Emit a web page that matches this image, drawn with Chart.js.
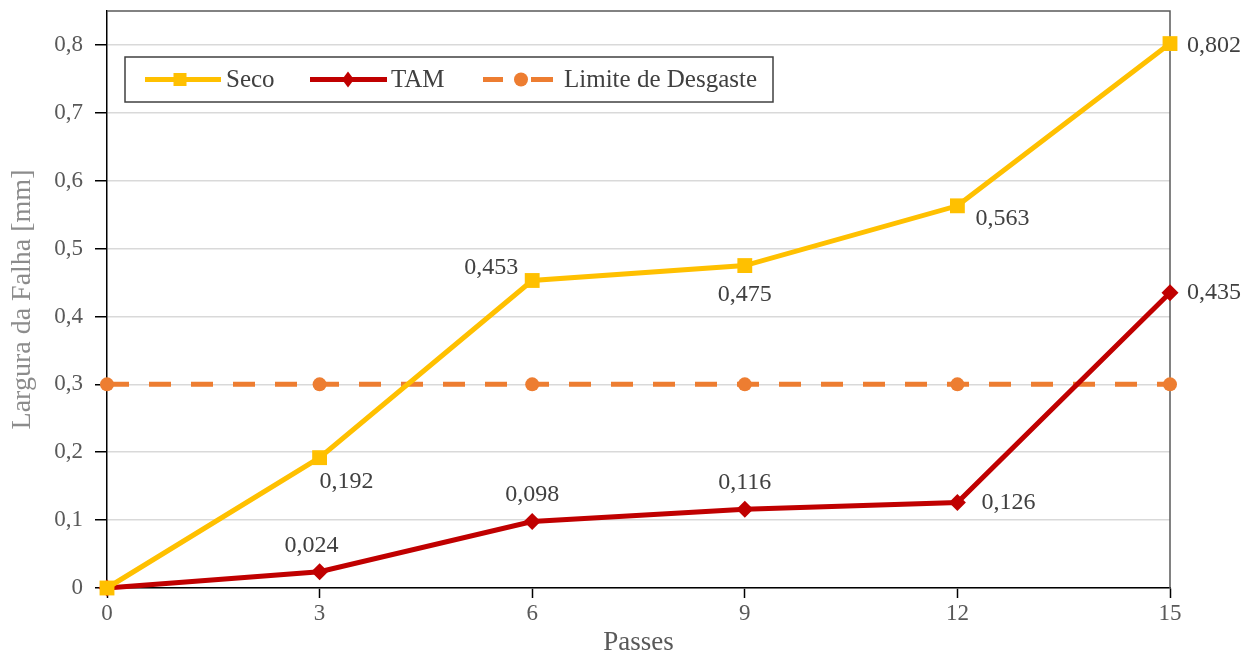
<!DOCTYPE html>
<html>
<head>
<meta charset="utf-8">
<script src="https://cdn.jsdelivr.net/npm/chart.js@4.4.1/dist/chart.umd.min.js"></script>
<style>
  html,body{margin:0;padding:0;background:#fff;}
  #wrap{width:1255px;height:659px;}
</style>
</head>
<body>
<div id="wrap"><canvas id="chart" width="1255" height="659"></canvas></div>
<script>
// data
const passes = [0, 3, 6, 9, 12, 15];
const seco   = [0, 0.192, 0.453, 0.475, 0.563, 0.802];
const tam    = [0, 0.024, 0.098, 0.116, 0.126, 0.435];
const limite = [0.3, 0.3, 0.3, 0.3, 0.3, 0.3];
const seriesNames = ["Seco", "TAM", "Limite de Desgaste"];

// where each value label goes relative to its point: [dx, dy, align]
const secoLabelPos = [null, [0,24,"left"], [-14,-13,"right"], [0,29,"center"], [18,13,"left"], [17,2,"left"]];
const tamLabelPos  = [null, [-8,-26,"center"], [0,-27,"center"], [0,-27,"center"], [24,0,"left"], [17,0,"left"]];

const FONT = "'Liberation Serif','Times New Roman',serif";
const fmt = v => String(v).replace(".", ",");
const pts = arr => passes.map((p,i)=>({x:p,y:arr[i]}));

const valueLabels = {
  id:"valueLabels",
  afterDatasetsDraw(chart){
    const ctx = chart.ctx;
    const sets = [[0, seco, secoLabelPos],[1, tam, tamLabelPos]];
    ctx.save();
    ctx.font = "24px " + FONT;
    ctx.fillStyle = "#404040";
    ctx.textBaseline = "middle";
    sets.forEach(([di, vals, pos])=>{
      const meta = chart.getDatasetMeta(di);
      meta.data.forEach((el,j)=>{
        const p = pos[j];
        if(!p) return;
        ctx.textAlign = p[2];
        ctx.fillText(fmt(vals[j]), el.x + p[0], el.y + p[1]);
      });
    });
    ctx.restore();
  }
};

// frame on top/right + legend box inside the plot
const frameAndLegend = {
  id:"frameAndLegend",
  beforeDatasetsDraw(chart){
    const {ctx, chartArea:a} = chart;
    ctx.save();
    ctx.strokeStyle = "#595959";
    ctx.lineWidth = 1.5;
    ctx.beginPath();
    ctx.moveTo(a.left, a.top);
    ctx.lineTo(a.right, a.top);
    ctx.lineTo(a.right, a.bottom);
    ctx.stroke();
    ctx.restore();
  },
  afterDraw(chart){
    const {ctx, chartArea:a} = chart;
    const bx = a.left + 18, by = a.top + 46, bw = 648, bh = 45;
    const cy = by + bh/2;
    ctx.save();
    ctx.fillStyle = "#fff";
    ctx.fillRect(bx, by, bw, bh);
    ctx.strokeStyle = "#404040";
    ctx.lineWidth = 1.5;
    ctx.strokeRect(bx, by, bw, bh);

    const ds = chart.data.datasets;
    ctx.lineWidth = 5;
    // Seco
    ctx.strokeStyle = ds[0].borderColor;
    ctx.beginPath(); ctx.moveTo(bx+20, cy); ctx.lineTo(bx+96, cy); ctx.stroke();
    ctx.fillStyle = ds[0].borderColor;
    ctx.fillRect(bx+55-6.5, cy-6.5, 13, 13);
    // TAM
    ctx.strokeStyle = ds[1].borderColor;
    ctx.beginPath(); ctx.moveTo(bx+185, cy); ctx.lineTo(bx+262, cy); ctx.stroke();
    ctx.fillStyle = ds[1].borderColor;
    ctx.beginPath();
    ctx.moveTo(bx+223, cy-8); ctx.lineTo(bx+229, cy); ctx.lineTo(bx+223, cy+8); ctx.lineTo(bx+217, cy);
    ctx.closePath(); ctx.fill();
    // Limite
    ctx.strokeStyle = ds[2].borderColor;
    ctx.beginPath(); ctx.moveTo(bx+358, cy); ctx.lineTo(bx+378, cy); ctx.stroke();
    ctx.beginPath(); ctx.moveTo(bx+406, cy); ctx.lineTo(bx+428, cy); ctx.stroke();
    ctx.fillStyle = ds[2].borderColor;
    ctx.beginPath(); ctx.arc(bx+396, cy, 7, 0, Math.PI*2); ctx.fill();

    ctx.font = "25px " + FONT;
    ctx.fillStyle = "#404040";
    ctx.textAlign = "left";
    ctx.textBaseline = "middle";
    ctx.fillText(seriesNames[0], bx+101, cy+1);
    ctx.fillText(seriesNames[1], bx+266, cy+1);
    ctx.fillText(seriesNames[2], bx+439, cy+1);
    ctx.restore();
  }
};

new Chart(document.getElementById("chart").getContext("2d"), {
  type:"line",
  data:{
    datasets:[
      {label:seriesNames[0], data:pts(seco), borderColor:"#FFC000", backgroundColor:"#FFC000",
       borderWidth:5, pointStyle:"rect", pointRadius:10.5, pointBorderWidth:0, clip:false},
      {label:seriesNames[1], data:pts(tam), borderColor:"#C00000", backgroundColor:"#C00000",
       borderWidth:5, pointStyle:"rectRot", pointRadius:8.5, pointBorderWidth:0, clip:false},
      {label:seriesNames[2], data:pts(limite), borderColor:"#ED7D31", backgroundColor:"#ED7D31",
       borderWidth:5, borderDash:[22,20], pointStyle:"circle", pointRadius:7, pointBorderWidth:0, clip:false}
    ]
  },
  options:{
    responsive:false,
    animation:false,
    events:[],
    layout:{padding:{top:11, right:85, left:0, bottom:0}},
    plugins:{legend:{display:false}, tooltip:{enabled:false}},
    scales:{
      x:{
        type:"linear", min:0, max:15,
        afterFit(s){ s.height = 71; s.paddingLeft = 0; s.paddingRight = 0; },
        ticks:{stepSize:3, color:"#595959", font:{family:FONT, size:23}, padding:2},
        grid:{drawOnChartArea:false, drawTicks:true, tickLength:10, tickColor:"#000", tickWidth:1.5},
        border:{color:"#000", width:1.5},
        title:{display:true, text:"Passes", color:"#595959", font:{family:FONT, size:27}, padding:{top:0, bottom:0}}
      },
      y:{
        type:"linear", min:0, max:0.85,
        afterFit(s){ s.width = 107; s.paddingTop = 0; s.paddingBottom = 0; },
        ticks:{stepSize:0.1, includeBounds:false, color:"#595959", font:{family:FONT, size:23}, padding:12,
               callback:v=>fmt(Math.round(v*10)/10)},
        grid:{color:"#d9d9d9", lineWidth:1.5, tickLength:12, tickColor:"#000", tickWidth:1.5},
        border:{color:"#000", width:1.5},
        title:{display:true, text:"Largura da Falha [mm]", color:"#8c8c8c", font:{family:FONT, size:28}, padding:{top:6, bottom:0}}
      }
    }
  },
  plugins:[frameAndLegend, valueLabels]
});
</script>
</body>
</html>
